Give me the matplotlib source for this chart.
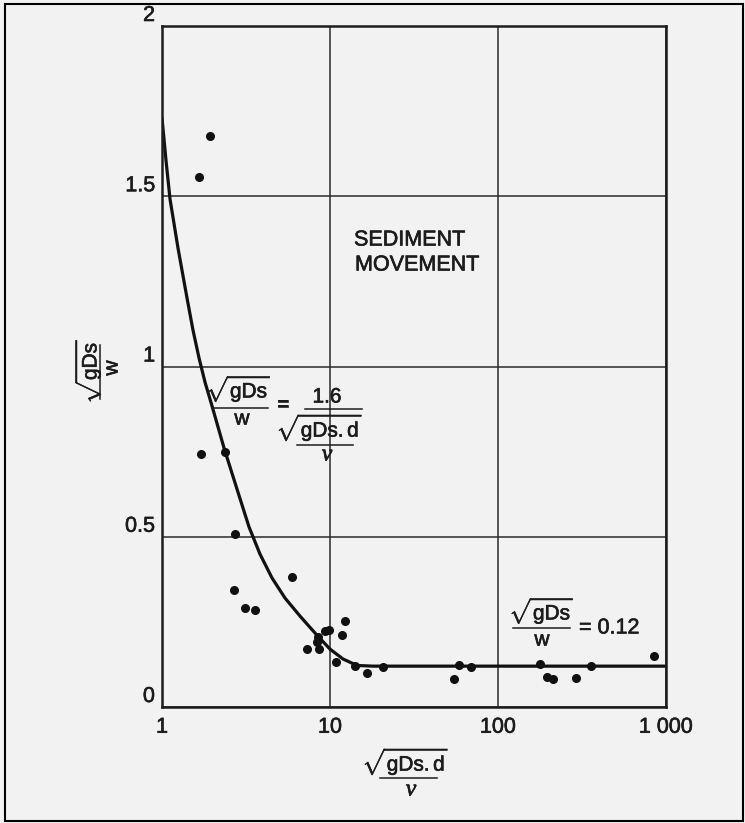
import matplotlib.pyplot as plt
import matplotlib.patheffects as pe
from matplotlib.lines import Line2D
from matplotlib.patches import Rectangle
from matplotlib.ticker import NullLocator

plt.rcParams['font.family'] = ['Liberation Sans', 'DejaVu Sans']
plt.rcParams['mathtext.fontset'] = 'custom'
plt.rcParams['mathtext.rm'] = 'Liberation Sans'
plt.rcParams['mathtext.sf'] = 'Liberation Sans'
plt.rcParams['mathtext.it'] = 'Liberation Sans:italic'

# measured points: particle Reynolds number vs sqrt(gDs)/w
reynolds = [1.92, 1.666, 1.70, 2.37, 2.72, 5.95, 2.67, 3.14, 3.56, 7.28,
            8.44, 8.4, 8.63, 9.33, 9.86, 10.8, 11.85, 12.25, 14.1, 16.7,
            20.7, 55, 58.7, 69.2, 179, 196, 212, 293, 360, 844]
ratio = [1.678, 1.556, 0.743, 0.750, 0.507, 0.383, 0.344, 0.292, 0.286, 0.170,
         0.205, 0.192, 0.171, 0.223, 0.225, 0.132, 0.212, 0.253, 0.121, 0.101,
         0.117, 0.081, 0.123, 0.117, 0.126, 0.087, 0.081, 0.086, 0.120, 0.150]

# threshold curve (about 1.6 / Re on the left, 0.12 on the right)
curve_re = [1.0, 1.056, 1.116, 1.245, 1.409, 1.529, 1.661, 1.803, 1.985, 2.339,
            2.795, 3.295, 3.831, 4.517, 5.397, 6.630, 8.254, 10.0, 11.95, 14.48,
            18.03, 1000]
curve_ratio = [1.730, 1.606, 1.492, 1.348, 1.201, 1.107, 1.025, 0.954, 0.884, 0.761,
               0.640, 0.529, 0.449, 0.379, 0.320, 0.267, 0.214, 0.170, 0.141, 0.122,
               0.12, 0.12]

x_ticks = [1, 10, 100, 1000]
x_ticklabels = ['1', '10', '100', '1 000']
y_ticks = [0, 0.5, 1, 1.5, 2]
y_ticklabels = ['0', '0.5', '1', '1.5', '2']

W, H = 745, 823
paper = '#f2f2f2'
ink = '#1c1c1c'
thick = [pe.withStroke(linewidth=0.45, foreground=ink)]

fig = plt.figure(figsize=(W / 100, H / 100), dpi=100, facecolor=paper)
ax = fig.add_axes([162 / W, 1 - 707 / H, (666 - 162) / W, (707 - 26) / H])
ax.set_facecolor(paper)

ax.set_xscale('log')
ax.set_xlim(1, 1000)
ax.set_ylim(0, 2)
ax.xaxis.set_minor_locator(NullLocator())
ax.set_xticks(x_ticks, x_ticklabels)
ax.set_yticks(y_ticks, y_ticklabels)
ax.tick_params(length=0, labelsize=15.5, colors=ink)
ax.tick_params(axis='x', pad=7)
ax.tick_params(axis='y', pad=5)
for lab in ax.get_yticklabels():
    lab.set_verticalalignment('bottom')
for lab in ax.get_xticklabels() + ax.get_yticklabels():
    lab.set_path_effects(thick)
ax.grid(True, color='#2a2a2a', lw=1.1)
for sp in ax.spines.values():
    sp.set_color(ink)
    sp.set_linewidth(1.8)

ax.plot(curve_re, curve_ratio, color='#111111', lw=2.3,
        solid_joinstyle='round', solid_capstyle='round')
ax.plot(reynolds, ratio, 'o', color='#111111', ms=5.5, ls='none')


# text placed in pixel units of the page
def fx(x):
    return x / W


def fy(y):
    return 1 - y / H


def put(x, y, s, **kw):
    kw.setdefault('ha', 'center')
    kw.setdefault('va', 'center')
    kw.setdefault('size', 15)
    kw.setdefault('color', ink)
    kw.setdefault('path_effects', thick)
    fig.text(fx(x), fy(y), s, **kw)


def bar(x0, y0, x1, y1, lw=1.1):
    fig.add_artist(Line2D([fx(x0), fx(x1)], [fy(y0), fy(y1)],
                          transform=fig.transFigure, color=ink, lw=lw))


nu = dict(family=['Liberation Serif', 'DejaVu Serif'], style='italic', size=17)
root = r'$\sqrt{\mathsf{gDs}}$'
root_d = r'$\sqrt{\mathsf{gDs.d}}$'

put(354, 240, 'SEDIMENT', ha='left', size=15.5)
put(355, 265, 'MOVEMENT', ha='left', size=15.5)

# threshold formula
put(238, 389, root)
bar(212, 408, 268, 408)
put(242, 419, 'w')
put(283, 405, '=')
put(327, 397, '1.6')
bar(305, 409, 362, 409)
put(319, 428, root_d)
bar(297, 445, 353, 445)
put(327, 455, '\u03bd', **nu)

# constant value for large Re
put(541, 611, root)
bar(513, 628, 570, 628)
put(542, 640, 'w')
put(579, 628, '= 0.12', ha='left', size=15.5)

# axis titles
put(405, 762, root_d)
bar(380, 778, 437, 778)
put(411, 790, '\u03bd', **nu)

put(88, 372, root, rotation=90)
bar(100, 345, 100, 399)
put(112, 368, 'w', rotation=90)

fig.add_artist(Rectangle((fx(5), fy(821)), fx(738), 817 / H,
                         transform=fig.transFigure, fill=False,
                         edgecolor='black', lw=1.5))

fig.savefig('out.png', dpi=100, facecolor=paper)
